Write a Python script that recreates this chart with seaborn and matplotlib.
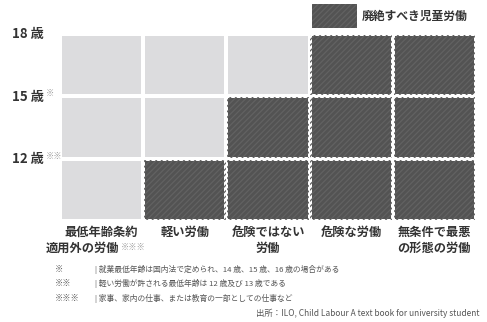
import matplotlib
matplotlib.use("Agg")
import matplotlib.pyplot as plt
from matplotlib.colors import ListedColormap
from matplotlib.patches import Rectangle
import numpy as np
import seaborn as sns

# columns: types of work, rows: age bands (top = 18歳 down to 0)
work_types = ["最低年齢条約\n適用外の労働", "軽い労働", "危険ではない\n労働", "危険な労働", "無条件で最悪\nの形態の労働"]
work_marks = ["※※※", "", "", "", ""]
age_labels = ["18 歳", "15 歳", "12 歳"]
age_marks = ["", "※", "※※"]
# 1 = child labour to be abolished
abolish = [
    [0, 0, 0, 1, 1],
    [0, 0, 1, 1, 1],
    [0, 1, 1, 1, 1],
]
legend_label = "廃絶すべき児童労働"
notes_marks = ["※", "※※", "※※※"]
notes_text = [
    "就業最低年齢は国内法で定められ、14 歳、15 歳、16 歳の場合がある",
    "軽い労働が許される最低年齢は 12 歳及び 13 歳である",
    "家事、家内の仕事、または教育の一部としての仕事など",
]
source = "出所：ILO, Child Labour A text book for university student"

LIGHT = "#dcdcde"
DARK = "#535353"
STRIPE = "#626262"
TEXT = "#333333"

sns.set_theme(style="white")
plt.rcParams["font.family"] = ["Noto Sans CJK JP", "DejaVu Sans"]
plt.rcParams["hatch.linewidth"] = 0.9

W, H = 487, 322
fig = plt.figure(figsize=(W / 100, H / 100), dpi=100)
ax = fig.add_axes([60 / W, (H - 221) / H, 416 / W, 187 / H])

mat = np.array(abolish)
sns.heatmap(mat, cmap=ListedColormap([LIGHT, DARK]), vmin=0, vmax=1, cbar=False,
            linewidths=1.5, linecolor="white", ax=ax)

# stripes on the abolish cells
for r, row in enumerate(abolish):
    for c, v in enumerate(row):
        if v:
            ax.add_patch(Rectangle((c + 0.01, r + 0.015), 0.98, 0.97, facecolor="none",
                                   edgecolor=STRIPE, hatch="//////", linewidth=0))

ax.set_xticks([])
ax.set_yticks([])
for s in ax.spines.values():
    s.set_visible(False)

# age labels on row boundaries
for i, (lab, mk) in enumerate(zip(age_labels, age_marks)):
    yf = 1 - (34 + i * 62.5) / H
    fig.text(12 / W, yf, lab, ha="left", va="center", fontsize=9.5, color=TEXT, fontweight="bold")
    if mk:
        fig.text(46 / W, yf + 3 / H, mk, ha="left", va="center", fontsize=6, color="#9a9a9a")

# column labels
for c, (lab, mk) in enumerate(zip(work_types, work_marks)):
    xc = 60 + (c + 0.5) * 83.2
    lines = lab.split("\n")
    for j, line in enumerate(lines):
        yf = 1 - (232 + j * 16) / H
        if mk and j == len(lines) - 1:
            fig.text((xc + 18) / W, yf, line, ha="right", va="center", fontsize=8.8,
                     color=TEXT, fontweight="bold")
            fig.text((xc + 19) / W, yf + 1 / H, mk, ha="left", va="center", fontsize=6,
                     color="#9a9a9a")
        else:
            fig.text(xc / W, yf, line, ha="center", va="center", fontsize=8.8,
                     color=TEXT, fontweight="bold")

# legend
fig.add_artist(Rectangle((312 / W, 1 - 28 / H), 45 / W, 24 / H, transform=fig.transFigure,
                         facecolor=DARK, edgecolor=STRIPE, hatch="//////", linewidth=0))
fig.text(362 / W, 1 - 16 / H, legend_label, ha="left", va="center", fontsize=8.5, color=TEXT,
         fontweight="bold")

# notes
for i, (mk, txt) in enumerate(zip(notes_marks, notes_text)):
    yf = 1 - (269 + i * 14.5) / H
    fig.text(55 / W, yf, mk, ha="left", va="center", fontsize=6, color="#555555")
    fig.text(95 / W, yf, "| " + txt, ha="left", va="center", fontsize=5.6, color="#555555")
fig.text(480 / W, 1 - 313 / H, source, ha="right", va="center", fontsize=6, color="#555555")

fig.savefig("out.png", dpi=100)
